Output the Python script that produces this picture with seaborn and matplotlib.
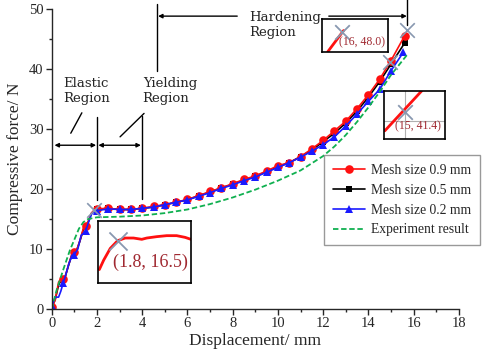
import numpy as np
import pandas as pd
import matplotlib
matplotlib.use('Agg')
import matplotlib.pyplot as plt
import seaborn as sns

# displacement (mm) / force (N)
x_09 = [0, 0.15, 0.3, 0.4, 0.5, 0.6, 0.75, 0.9, 1.0, 1.1, 1.25, 1.4, 1.5, 1.6, 1.75, 1.9, 2.0,
        2.5, 3.0, 3.5, 4.0, 4.5, 5.0, 5.5, 6.0, 6.5, 7.0, 7.5, 8.0, 8.5, 9.0, 9.5, 10.0,
        10.5, 11.0, 11.5, 12.0, 12.5, 13.0, 13.5, 14.0, 14.5, 15.0, 15.6]
f_09 = [0.3, 1.5, 4.5, 5.0, 5.0, 5.5, 7.5, 9.3, 9.5, 9.8, 11.5, 13.5, 13.8, 14.5, 16.0, 16.6, 16.7,
        16.8, 16.6, 16.6, 16.8, 17.1, 17.4, 17.8, 18.3, 18.9, 19.6, 20.2, 20.9, 21.6, 22.2, 23.0, 23.9,
        24.4, 25.4, 26.7, 28.1, 29.7, 31.3, 33.4, 35.7, 38.3, 41.4, 45.5]

x_05 = [0, 0.15, 0.3, 0.4, 0.5, 0.6, 0.75, 0.9, 1.0, 1.1, 1.25, 1.4, 1.5, 1.6, 1.75, 1.9, 2.0,
        2.5, 3.0, 3.5, 4.0, 4.5, 5.0, 5.5, 6.0, 6.5, 7.0, 7.5, 8.0, 8.5, 9.0, 9.5, 10.0,
        10.5, 11.0, 11.5, 12.0, 12.5, 13.0, 13.5, 14.0, 14.5, 15.0, 15.6]
f_05 = [0.3, 1.6, 4.0, 4.8, 4.9, 5.5, 7.4, 9.2, 9.4, 9.8, 11.4, 13.3, 13.6, 14.4, 15.9, 16.5, 16.6,
        16.8, 16.6, 16.6, 16.8, 17.0, 17.4, 17.8, 18.2, 18.9, 19.5, 20.2, 20.8, 21.5, 22.1, 22.9, 23.7,
        24.4, 25.4, 26.5, 27.9, 29.3, 31.0, 33.0, 35.3, 37.9, 40.8, 44.3]

x_02 = [0, 0.15, 0.3, 0.4, 0.5, 0.6, 0.75, 0.9, 1.0, 1.15, 1.3, 1.5, 1.6, 1.75, 1.9, 2.0,
        2.5, 3.0, 3.5, 4.0, 4.5, 5.0, 5.5, 6.0, 6.5, 7.0, 7.5, 8.0, 8.5, 9.0, 9.5, 10.0,
        10.5, 11.0, 11.5, 12.0, 12.5, 13.0, 13.5, 14.0, 14.5, 15.0, 15.55]
f_02 = [0.5, 2.0, 2.0, 3.0, 4.3, 5.5, 7.5, 9.0, 9.1, 10.0, 12.3, 13.0, 14.2, 15.8, 16.3, 16.4,
        16.7, 16.6, 16.6, 16.8, 17.0, 17.4, 17.8, 18.2, 18.8, 19.4, 20.1, 20.7, 21.4, 22.0, 22.8, 23.6,
        24.4, 25.3, 26.3, 27.4, 28.7, 30.5, 32.5, 34.6, 36.6, 39.7, 42.8]

x_exp = [0, 0.2, 0.5, 0.8, 1.0, 1.2, 1.4, 1.6, 2.0, 3.0, 4.0, 5.0, 6.0, 7.0, 8.0, 9.0, 10.0,
         11.0, 12.0, 12.5, 13.0, 13.5, 14.0, 14.5, 15.0, 15.7]
f_exp = [0, 3.0, 6.5, 9.8, 11.6, 13.4, 14.5, 15.0, 15.3, 15.4, 15.6, 16.0, 16.6, 17.5, 18.6, 19.9, 21.4,
         23.1, 25.5, 27.1, 29.0, 31.2, 33.6, 36.2, 39.0, 42.3]

# points picked out with a grey cross
cross_x = [1.85, 14.95, 15.73]
cross_y = [16.5, 41.2, 46.5]

# zoomed curves shown in the three boxes (box-relative)
in1_x = [0.014, 0.061, 0.132, 0.211, 0.293, 0.382, 0.471, 0.525, 0.632, 0.739, 0.846, 0.936, 1.0]
in1_y = [0.216, 0.368, 0.557, 0.681, 0.724, 0.724, 0.703, 0.724, 0.746, 0.762, 0.762, 0.735, 0.703]
in2_x = [0.09, 0.33]
in2_y = [0.01, 0.65]
in3_x = [0.016, 0.62]
in3_y = [0.17, 1.0]

sns.set_style('ticks')
plt.rcParams['font.family'] = ['Liberation Serif', 'DejaVu Serif']

fig = plt.figure(figsize=(4.84, 3.57), dpi=100)
ax = fig.add_axes([0.107, 0.134, 0.841, 0.841])

red, blue, green = '#ff1010', '#1a1aff', '#10b050'
cross_c = '#8898b0'


def mesh_line(x, y, color, marker, label, ms):
    x = np.asarray(x)
    marks = list(np.where(np.isclose(x * 2, np.round(x * 2)) | (x == x.max()))[0])
    df = pd.DataFrame({'d': x, 'f': y})
    sns.lineplot(data=df, x='d', y='f', ax=ax, color=color, marker=marker, markersize=ms,
                 markevery=marks, markeredgewidth=0, linewidth=1.2, label=label, sort=False,
                 estimator=None)


mesh_line(x_09, f_09, red, 'o', 'Mesh size 0.9 mm', 6.2)
mesh_line(x_05, f_05, 'black', 's', 'Mesh size 0.5 mm', 5)
mesh_line(x_02, f_02, blue, '^', 'Mesh size 0.2 mm', 6.2)
sns.lineplot(x=x_exp, y=f_exp, ax=ax, color=green, linestyle=(0, (3, 1.5)), linewidth=1.3,
             label='Experiment result', sort=False, estimator=None)
ax.lines[1].set_zorder(1.5)

ax.scatter(cross_x, cross_y, marker='x', s=110, color=cross_c, linewidths=1.2, zorder=5, clip_on=False)

ax.set_xlim(0, 18)
ax.set_ylim(0, 50)
ax.set_xticks(np.arange(0, 19, 2))
ax.set_xticks(np.arange(1, 18, 2), minor=True)
ax.set_yticks(np.arange(0, 51, 10))
ax.set_yticks(np.arange(5, 50, 10), minor=True)
ax.tick_params(axis='both', which='major', direction='out', length=4, width=1, labelsize=10.5, pad=2)
ax.tick_params(axis='both', which='minor', direction='out', length=2.5, width=1)
sns.despine(ax=ax)
for s in ['left', 'bottom']:
    ax.spines[s].set_linewidth(1)
ax.set_xlabel('Displacement/ mm', fontsize=12.5, labelpad=2)
ax.set_ylabel('Compressive force/ N', fontsize=12.5, labelpad=4)

leg = ax.legend(loc='upper left', bbox_to_anchor=(0.668, 0.513), borderaxespad=0, fontsize=9.8,
                frameon=True, fancybox=False, handlelength=2.4, labelspacing=0.5,
                borderpad=0.65, handletextpad=0.4)
leg.get_frame().set_edgecolor('#808080')
leg.get_frame().set_linewidth(1)
leg.set_zorder(6)

# region markers
lk = dict(color='black', lw=1, clip_on=False)
ax.plot([2, 2], [18.2, 32], **lk)
ax.plot([4, 4], [18.3, 32.2], **lk)
ax.plot([4.65, 4.65], [39.7, 50.8], **lk)
ax.plot([15.73, 15.73], [47.4, 51.6], **lk)
ax.plot([1.33, 0.84], [32.7, 29.3], **lk)
ax.plot([4.08, 3.02], [32.6, 28.7], **lk)
ak = dict(arrowstyle='<|-|>', color='black', lw=1, shrinkA=0, shrinkB=0, mutation_scale=6)
ax.annotate('', xy=(0.12, 27.3), xytext=(1.96, 27.3), arrowprops=ak, annotation_clip=False)
ax.annotate('', xy=(2.06, 27.3), xytext=(3.94, 27.3), arrowprops=ak, annotation_clip=False)
ak1 = dict(arrowstyle='-|>', color='black', lw=1, shrinkA=0, shrinkB=0, mutation_scale=6)
ax.annotate('', xy=(4.7, 48.8), xytext=(8.2, 48.8), arrowprops=ak1, annotation_clip=False)
ax.annotate('', xy=(15.7, 48.8), xytext=(12.25, 48.8), arrowprops=ak1, annotation_clip=False)
tk = dict(fontsize=9.5, family=['DejaVu Serif'], va='top', linespacing=1.25)
ax.text(0.52, 38.7, 'Elastic\nRegion', **tk)
ax.text(4.02, 38.7, 'Yielding\nRegion', **tk)
ax.text(8.75, 49.7, 'Hardening\nRegion', **tk)


def box(rect, xs, ys, cx, cy, label, tx, ty, fs, cross=False):
    a = fig.add_axes(rect)
    a.set_facecolor('white')
    a.set_xlim(0, 1)
    a.set_ylim(0, 1)
    a.set_xticks([])
    a.set_yticks([])
    for s in a.spines.values():
        s.set_linewidth(1.2)
        s.set_color('black')
    if cross:
        a.axvline(cx, color='#b0b0b0', lw=0.8)
        a.axhline(cy - 0.19, color='#b0b0b0', lw=0.8)
    a.plot(xs, ys, color=red, lw=2)
    a.scatter([cx], [cy], marker='x', s=170 if fs > 9 else 110, color=cross_c, linewidths=1.3, zorder=3)
    a.text(tx, ty, label, color='#a02830', fontsize=fs, va='center')
    return a


box([0.2025, 0.2073, 0.192, 0.174], in1_x, in1_y, 0.211, 0.681, '(1.8, 16.5)', 0.16, 0.34, 13)
box([0.665, 0.8543, 0.136, 0.0924], in2_x, in2_y, 0.31, 0.6, '(16, 48.0)', 0.26, 0.3, 8.5)
box([0.793, 0.6106, 0.126, 0.1345], in3_x, in3_y, 0.34, 0.57, '(15, 41.4)', 0.18, 0.26, 8.5, cross=True)

fig.savefig('out.png', dpi=100)
